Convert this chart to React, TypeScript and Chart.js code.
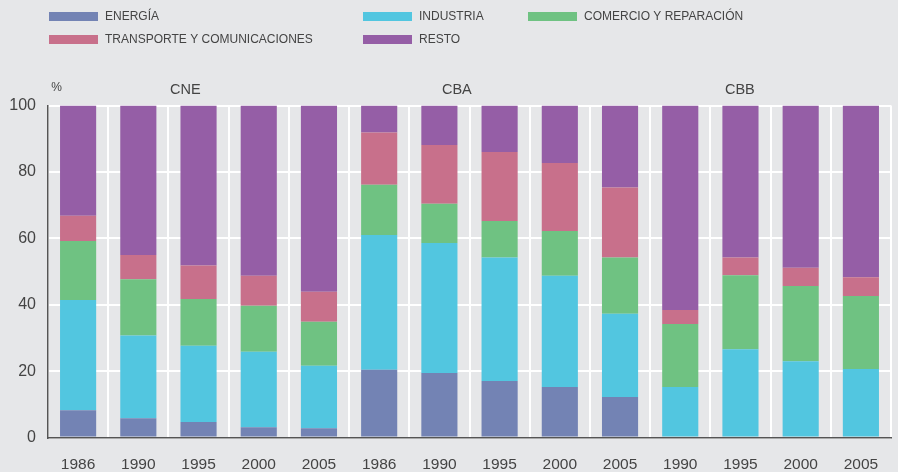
import React, { useEffect, useRef } from "react";
import { Chart, registerables } from "chart.js";

Chart.register(...registerables);

const years = ["1986", "1990", "1995", "2000", "2005", "1986", "1990", "1995", "2000", "2005", "1990", "1995", "2000", "2005"];
const groups = ["CNE", "CBA", "CBB"];
const yTicks = [0, 20, 40, 60, 80, 100];

const energia = [8.2, 5.8, 4.7, 3.1, 2.8, 20.4, 19.4, 17.0, 15.2, 12.2, 0, 0, 0, 0];
const industria = [33.2, 24.9, 22.9, 22.7, 18.8, 40.6, 39.2, 37.2, 33.5, 25.1, 15.2, 26.6, 23.0, 20.6];
const comercio = [17.8, 17.0, 14.1, 13.9, 13.3, 15.1, 11.8, 11.0, 13.5, 16.9, 19.0, 22.3, 22.6, 22.0];
const transporte = [7.6, 7.3, 10.1, 9.0, 9.0, 15.8, 17.7, 20.8, 20.5, 21.1, 4.2, 5.3, 5.5, 5.7];
const resto = [33.2, 45.0, 48.2, 51.3, 56.1, 8.1, 11.9, 14.0, 17.3, 24.7, 61.6, 45.8, 48.9, 51.7];

const seriesNames = ["ENERGÍA", "INDUSTRIA", "COMERCIO Y REPARACIÓN", "TRANSPORTE Y COMUNICACIONES", "RESTO"];
const seriesColors = ["#7383b4", "#52c6e0", "#6fc282", "#c8708b", "#955ea6"];

const BG = "#e6e7e9";
const TEXT = "#444444";
const FONT = "'Liberation Sans', Arial, Helvetica, sans-serif";

// legend layout: [series index, x, y]
const legendLayout: [number, number, number][] = [
  [0, 49, 16.5],
  [1, 363, 16.5],
  [2, 528, 16.5],
  [3, 49, 39.5],
  [4, 363, 39.5],
];
// group label positions (fractional category index)
const groupLabelAt = [1.78, 6.29, 10.99];

const overlayPlugin = {
  id: "overlay",
  beforeDraw(chart: any) {
    const ctx = chart.ctx;
    ctx.save();
    ctx.fillStyle = BG;
    ctx.fillRect(0, 0, chart.width, chart.height);
    ctx.restore();
  },
  afterDraw(chart: any) {
    const ctx = chart.ctx;
    const xs = chart.scales.x;
    ctx.save();
    // legend
    ctx.font = `12px ${FONT}`;
    ctx.textBaseline = "middle";
    ctx.textAlign = "left";
    legendLayout.forEach(([i, x, y]) => {
      ctx.fillStyle = seriesColors[i];
      ctx.fillRect(x, y - 4.5, 49, 9);
      ctx.fillStyle = TEXT;
      ctx.fillText(seriesNames[i], x + 56, y);
    });
    // group labels
    ctx.font = `14.5px ${FONT}`;
    ctx.textAlign = "center";
    groups.forEach((g, k) => {
      const px = xs.getPixelForValue(groupLabelAt[k]);
      ctx.fillText(g, px, 90);
    });
    // % unit
    ctx.font = `12px ${FONT}`;
    ctx.textAlign = "center";
    ctx.fillText("%", 56.5, 88);
    ctx.restore();
  },
};

export default function App() {
  const ref = useRef<HTMLCanvasElement>(null);
  useEffect(() => {
    const data = [energia, industria, comercio, transporte, resto];
    const chart = new Chart(ref.current!, {
      type: "bar",
      data: {
        labels: years,
        datasets: data.map((d, i) => ({
          label: seriesNames[i],
          data: d,
          backgroundColor: seriesColors[i],
          borderWidth: 0,
          barPercentage: 0.6,
          categoryPercentage: 1,
        })),
      },
      options: {
        animation: false,
        responsive: true,
        maintainAspectRatio: false,
        layout: { padding: { top: 105.5, right: 7, left: 0, bottom: 0 } },
        plugins: { legend: { display: false }, tooltip: { enabled: false } },
        scales: {
          x: {
            stacked: true,
            offset: true,
            grid: { color: "#ffffff", lineWidth: 2, drawTicks: false, offset: true },
            border: { display: true, color: "#555555", width: 1.5 },
            ticks: { color: TEXT, font: { family: FONT, size: 15.5 }, padding: 18, maxRotation: 0, autoSkip: false },
            afterFit: (s: any) => {
              s.height = 34.5;
            },
          },
          y: {
            stacked: true,
            min: 0,
            max: 100,
            afterBuildTicks: (s: any) => {
              s.ticks = yTicks.map((v) => ({ value: v }));
            },
            grid: { color: "#ffffff", lineWidth: 2, drawTicks: false },
            border: { display: true, color: "#555555", width: 1.5 },
            ticks: { color: TEXT, font: { family: FONT, size: 16 }, padding: 12 },
            afterFit: (s: any) => {
              s.width = 48;
            },
          },
        },
      },
      plugins: [overlayPlugin],
    });
    return () => chart.destroy();
  }, []);
  return (
    <div style={{ position: "fixed", left: 0, top: 0, width: 898, height: 472, background: BG }}>
      <canvas ref={ref} />
    </div>
  );
}
